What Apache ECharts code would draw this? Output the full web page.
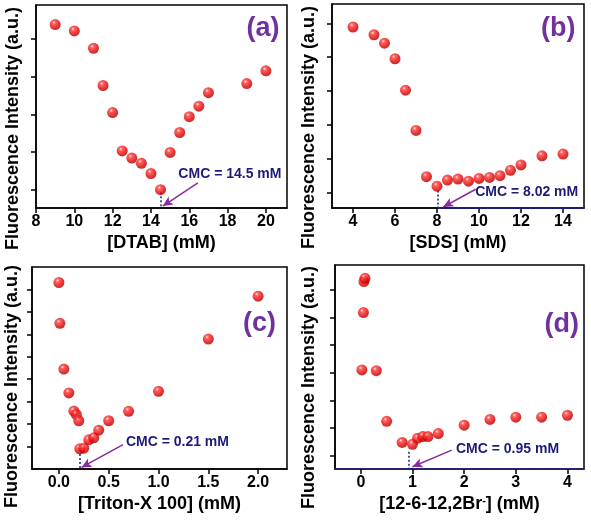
<!DOCTYPE html>
<html><head><meta charset="utf-8">
<script src="https://cdn.jsdelivr.net/npm/echarts@6/dist/echarts.min.js"></script>
<style>html,body{margin:0;padding:0;background:#fff}#c{width:591px;height:520px}</style>
</head><body><div id="c"></div>
<script>
// Panel (a) DTAB
const xA = [9,10,11,11.5,12,12.5,13,13.5,14,14.5,15,15.5,16,16.5,17,19,20];
const yA = [5.39,5.22,4.76,3.77,3.05,2.03,1.84,1.70,1.43,1.00,1.99,2.52,2.94,3.22,3.58,3.82,4.16];
const ticksXA = [8,10,12,14,16,18,20];
// Panel (b) SDS
const xB = [4,5,5.5,6,6.5,7,7.5,8,8.5,9,9.5,10,10.5,11,11.5,12,13,14];
const yB = [5.89,5.66,5.41,4.95,4.02,2.83,1.46,1.18,1.36,1.39,1.33,1.41,1.44,1.49,1.65,1.81,2.08,2.13];
const ticksXB = [4,6,8,10,12,14];
// Panel (c) Triton-X 100
const xC = [0,0.01,0.05,0.1,0.15,0.175,0.2,0.21,0.25,0.3,0.35,0.4,0.5,0.7,1.0,1.5,2.0];
const yC = [8.31,6.49,4.45,3.39,2.58,2.43,2.15,0.90,0.93,1.30,1.39,1.73,2.15,2.57,3.46,5.79,7.70];
const ticksXC = [0,0.5,1,1.5,2];
// Panel (d) 12-6-12,2Br-
const xD = [0.02,0.05,0.06,0.08,0.3,0.5,0.8,1.0,1.1,1.2,1.3,1.5,2,2.5,3,3.5,4];
const yD = [4.10,6.17,7.29,7.41,4.07,2.24,1.48,1.41,1.63,1.69,1.69,1.80,2.10,2.31,2.39,2.39,2.46];
const ticksXD = [0,1,2,3,4];

const cmcLabels = ['CMC = 14.5 mM','CMC = 8.02 mM','CMC = 0.21 mM','CMC = 0.95 mM'];
const xTitles = ['[DTAB] (mM)','[SDS] (mM)','[Triton-X 100] (mM)','[12-6-12,2Br{sup|-}] (mM)'];
const yTitle = 'Fluorescence Intensity (a.u.)';
const panelTags = ['(a)','(b)','(c)','(d)'];

const FONT = '"Liberation Sans", Arial, sans-serif';
const NAVY = '#1c1c78';
const PURPLE = '#8a2a9e';

const grids = [
  {left:36, top:5, width:251, height:203},
  {left:332, top:4, width:252, height:204},
  {left:32, top:267, width:255, height:202},
  {left:335, top:265, width:249, height:204}
];
const xRanges = [[8,21.1],[3,15],[-0.27,2.29],[-0.5,4.32]];
const yRanges = [[0.513,5.91],[0.535,6.57],[0,9],[0.518,7.89]];
const yTicks = [[1,2,3,4,5],[1,2,3,4,5,6],[1,2,3,4,5,6,7,8],[1,2,3,4,5,6,7]];
const xTicks = [ticksXA, ticksXB, ticksXC, ticksXD];
const xs = [xA,xB,xC,xD], ys = [yA,yB,yC,yD];
const textPos = [[18.12,1.42],[12.27,0.99],[1.19,1.21],[2.84,1.23]];
const arrows = [[[16.45,1.18],[14.62,0.566]],[[9.84,1.09],[8.3,0.565]],[[0.644,1.09],[0.227,0.07]],[[1.76,1.2],[1.0,0.6]]];
const dotted = [[[14.5,0.93],[14.5,0.513]],[[8.02,1.05],[8.02,0.535]],[[0.21,0.67],[0.21,0]],[[0.93,1.14],[0.93,0.518]]];
const xAxisColors = ['#000','#000','#000',NAVY];

const ball = {type:'radial', x:0.38, y:0.32, r:0.7, colorStops:[
  {offset:0,color:'#ffe6e6'},{offset:0.22,color:'#ff3b3b'},{offset:0.7,color:'#e00000'},{offset:1,color:'#a80000'}]};

const option = {animation:false, grid:[], xAxis:[], yAxis:[], series:[], graphic:[]};
for (let i=0;i<4;i++){
  option.grid.push(Object.assign({show:true, borderColor:'#000', borderWidth:1.5, backgroundColor:'transparent'}, grids[i]));
  option.xAxis.push({type:'value', gridIndex:i, min:xRanges[i][0], max:xRanges[i][1],
    name:xTitles[i], nameLocation:'middle', nameGap:26,
    nameTextStyle:{fontFamily:FONT, fontWeight:'bold', fontSize:18, color:'#000',
      rich:{sup:{fontFamily:FONT, fontWeight:'bold', fontSize:11, verticalAlign:'top', padding:[0,0,8,0], color:'#000'}}},
    axisLine:{show:true, onZero:false, lineStyle:{color:xAxisColors[i], width:1.5}},
    axisTick:{show:true, inside:false, length:5, lineStyle:{color:'#000',width:1.5}, customValues:xTicks[i]},
    axisLabel:{show:true, margin:6, customValues:xTicks[i], fontFamily:FONT, fontWeight:'bold', fontSize:16, color:'#000',
      formatter: i===2 ? (v=>Number(v).toFixed(1)) : (v=>String(v))},
    splitLine:{show:false}});
  option.yAxis.push({type:'value', gridIndex:i, min:yRanges[i][0], max:yRanges[i][1],
    axisLine:{show:true, onZero:false, lineStyle:{color:'#000', width:1.5}},
    axisTick:{show:true, inside:false, length:5, lineStyle:{color:'#000',width:1.5}, customValues:yTicks[i]},
    axisLabel:{show:false, customValues:yTicks[i]},
    splitLine:{show:false}});
  const mlData = [
    [{coord:dotted[i][0], symbol:'none', lineStyle:{color:NAVY, width:1.5, type:[2,2]}}, {coord:dotted[i][1], symbol:'none'}],
    [{coord:arrows[i][0], symbol:'none', lineStyle:{color:PURPLE, width:1.5, type:'solid'}}, {coord:arrows[i][1], symbol:'arrow', symbolSize:[7,10]}]
  ];
  if (i===1) {
    mlData.push([{coord:[dotted[1][1][0], yRanges[1][0]], symbol:'none', lineStyle:{color:NAVY, width:1.8, type:'solid'}}, {coord:[xRanges[1][1], yRanges[1][0]], symbol:'none'}]);
  }
  option.series.push({type:'scatter', xAxisIndex:i, yAxisIndex:i,
    data: xs[i].map((x,k)=>[x, ys[i][k]]),
    symbol:'circle', symbolSize:11, itemStyle:{color:ball}, z:5,
    markLine:{silent:true, animation:false, label:{show:false}, data:mlData},
    markPoint:{silent:true, animation:false, data:[{coord:textPos[i], symbol:'circle', symbolSize:0,
      label:{show:true, position:'inside', formatter:cmcLabels[i], fontFamily:FONT, fontWeight:'bold', fontSize:14, color:NAVY}}]}
  });
}
// y titles and panel tags
const yTitlePos = [[13.3,128.5],[309.2,127.5],[12.5,386.5],[309.2,387.5]];
const tagPos = [[263,28.3],[558.3,28.3],[259.5,324],[561.8,325]];
for (let i=0;i<4;i++){
  option.graphic.push({type:'text', x:yTitlePos[i][0], y:yTitlePos[i][1], rotation:Math.PI/2,
    style:{text:yTitle, fontFamily:FONT, fontWeight:'bold', fontSize:18, fill:'#000', align:'center', verticalAlign:'middle'}});
  option.graphic.push({type:'text', x:tagPos[i][0], y:tagPos[i][1],
    style:{text:panelTags[i], fontFamily:FONT, fontWeight:'bold', fontSize:27, fill:'#7030a0', align:'center', verticalAlign:'middle'}});
}
const chart = echarts.init(document.getElementById('c'), null, {renderer:'canvas'});
chart.setOption(option);
</script></body></html>
